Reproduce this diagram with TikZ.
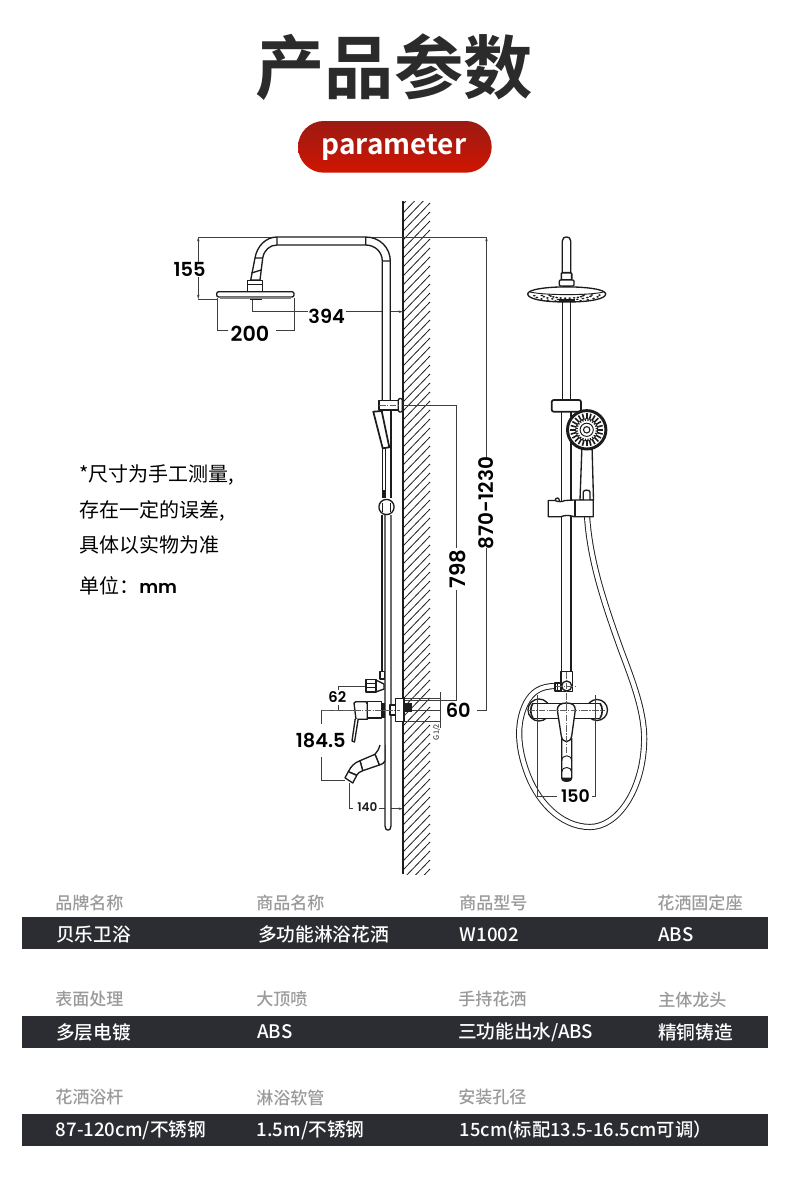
\documentclass[tikz,border=0pt]{standalone}
\usepackage{fontspec}
\usetikzlibrary{arrows.meta,shadings}
\setmainfont{Noto Sans CJK SC}
\newfontfamily\cjkb{Noto Sans CJK SC Bold}
\newfontfamily\cjkm{Noto Sans CJK SC Medium}
\newfontfamily\popp{Poppins SemiBold}
\newcommand{\fsz}[1]{\fontsize{#1}{#1}\selectfont}
\definecolor{ink}{HTML}{1C1C1C}
\definecolor{titlec}{HTML}{2B2B2B}
\definecolor{barc}{HTML}{2C2D32}
\definecolor{labc}{HTML}{9A9A9A}
\definecolor{pilltop}{HTML}{9C1A12}
\definecolor{pillmid}{HTML}{B5180B}
\definecolor{pillbot}{HTML}{D01500}
\tikzset{
 x=.75pt,y=-.75pt,
 part/.style={draw=ink,line width=1pt,fill=white,line join=round},
 thin part/.style={draw=ink,line width=.7pt,fill=white,line join=round},
 dimln/.style={draw=ink!85,line width=.45pt},
 dimarrow/.style={dimln,-{Stealth[length=3.2pt,width=1.8pt]}},
 dimtxt/.style={font=\popp\fsz{14.5},text=black,inner sep=0pt},
 smalltxt/.style={font=\popp\fsz{9},text=ink,inner sep=0pt},
 cdash/.style={draw=ink!70,line width=.4pt,dash pattern=on 5pt off 1pt on 1pt off 1pt},
 lab/.style={anchor=west,font=\cjkm\fsz{12.8},text=labc,inner sep=0pt},
 val/.style={anchor=west,font=\cjkm\fsz{14},text=white,inner sep=0pt},
 note/.style={anchor=west,font=\fsz{15},text=black,inner sep=0pt},
 hoseline/.style={line width=4.6pt,draw=ink},
 hosecore/.style={line width=3.2pt,draw=white},
}
\begin{document}
\begin{tikzpicture}
\useasboundingbox (0,0) rectangle (790,1182);
\fill[white] (0,0) rectangle (790,1182);
% title
\node[font=\cjkb\fsz{52},text=titlec,inner sep=0pt] (title) at (394,67) {产品参数};
\shade[top color=pilltop,bottom color=pillbot,middle color=pillmid,rounded corners=19.4pt] (298,121) rectangle (491.7,172.7);
\node[font=\cjkb\fsz{21},text=white,inner sep=0pt] (param) at (394,147.5) {parameter};
% wall
\begin{scope}
\clip (403,201) rectangle (431,874);
\foreach \yy in {204,213,...,912}{\draw[ink,line width=.6pt] (403,\yy) -- (430,\yy-28);}
\end{scope}
\draw[ink,line width=.9pt] (403,201) -- (403,874);
% dimension lines, left view
\draw[dimln] (198.3,237) -- (277,237);
\draw[dimln] (366,237) -- (486.5,237);
\draw[dimln] (198.3,299) -- (217,299);
\draw[dimarrow] (198.3,262) -- (198.3,237);
\draw[dimarrow] (198.3,277) -- (198.3,299);
\draw[dimln] (252.7,300) -- (252.7,311.7) -- (308,311.7);
\draw[dimarrow] (346,311.7) -- (403,311.7);
\draw[dimln] (228,330) -- (217.3,330) -- (217.3,298);
\draw[dimln] (276,330) -- (294,330) -- (294,298);
\draw[dimln] (398,405) -- (456.7,405) -- (456.7,548);
\draw[dimln] (456.7,590) -- (456.7,700) -- (404,700);
\draw[dimarrow] (486.5,458) -- (486.5,237);
\draw[dimln] (486.5,548) -- (486.5,710) -- (476.7,710);
\draw[dimln] (338.3,705) -- (338.3,710);
\draw[dimln] (338.3,690) -- (338.3,686) -- (366,686);
\draw[dimln] (321.7,724) -- (321.7,710) -- (440,710);
\draw[dimln] (321.7,756.7) -- (321.7,780) -- (345,780);
\draw[dimln] (404,721.7) -- (440,721.7);
\draw[dimln] (404,698) -- (440,698);
\draw[dimln] (440,692) -- (440,728);
\draw[dimln] (349.3,783) -- (349.3,808.7) -- (353,808.7);
\draw[dimarrow] (379.3,808.7) -- (403,808.7);
% arm, left view
\draw[part] (382.3,400) -- (382.3,261) .. controls (382.3,252) and (375,245) .. (365.7,245) -- (277,245) .. controls (270,245) and (264,250) .. (262.7,258) -- (260,280) -- (250.7,280) -- (255,258) .. controls (257,246) and (266,237) .. (277,237) -- (365.7,237) .. controls (380,237) and (390.3,248) .. (390.3,261) -- (390.3,400);
\draw[part] (277,237) -- (277,245) (365.7,237) -- (365.7,245) (382.3,261) -- (390.3,261) (255,258) -- (262.7,258) (251.5,273) -- (261,270);
\draw[part] (247.7,280.7) rectangle (262.7,291.7);
\draw[thin part] (247.7,284) -- (262.7,284);
\draw[part,rounded corners=1.5pt] (216.7,291.7) rectangle (294,297);
\draw[ink!55,line width=1pt] (220,298) -- (291,298);
\draw[ink,line width=.8pt] (250,299.5) -- (262,299.5);
% lower rod, left view
\draw[part] (382.7,411) -- (382.7,490);
\draw[part] (385.2,447) -- (385.2,492);
\draw[part] (391,410) -- (391,497);
\fill[ink] (382,490) rectangle (385.6,498);
\fill[ink] (389.8,490) rectangle (392,498);
\draw[part] (382,515) -- (382,672);
\draw[part] (385,515) -- (385,826) .. controls (385,831.5) and (391,831.5) .. (391,826) -- (391,515);
\draw[part] (386.5,507) circle[radius=7.6];
\draw[part] (382.3,503) -- (382.3,512) (390.7,503) -- (390.7,512);
% slider and hand shower, left view
\draw[part,line width=1.3pt] (373.3,411.7) -- (381.7,411) -- (389.3,447.3) -- (382.7,448.3) -- cycle;
\draw[part] (379,400.7) rectangle (398.3,410);
\draw[part,rounded corners=1pt] (398.3,398.5) rectangle (402.3,412);
\draw[cdash] (379,405) -- (398,405);
% valve, left view
\draw[part] (380,671.7) rectangle (384.3,679);
\draw[part] (375.7,680) -- (384,684) -- (384,689) -- (375.7,692) -- cycle;
\draw[part,line width=1.2pt] (365.7,679.3) rectangle (375.7,691.7);
\draw[ink,line width=.9pt] (366,683.5) -- (375.5,683.5) (366,687.5) -- (375.5,687.5);
\fill[ink] (381.7,703) rectangle (385,718);
\draw[part] (367.3,701.7) rectangle (381.7,718);
\draw[part] (354,703) -- (356,701.7) -- (366,701.7) -- (367.3,704) -- (367.3,719.3) -- (356,719.3) -- cycle;
\draw[part] (355.2,719) -- (352,741) -- (354.5,742) -- (358.2,719);
\draw[part] (380,745) .. controls (379,749) and (377,752) .. (375,754.3) -- (379.3,765) .. controls (383,764) and (384,762.5) .. (385,761) -- (385,745);
\draw[part] (360,760.7) -- (375,754.3) -- (379.3,765) -- (362.7,770.7) -- cycle;
\draw[part] (360,760.7) .. controls (355,762.5) and (351,766) .. (348.3,771.7) -- (356.7,775) .. controls (358,773) and (360,771.7) .. (362.7,770.7) -- cycle;
\draw[part] (345,777.8) -- (348.3,771.7) -- (356.7,775.4) -- (352.8,783) -- cycle;
% wall mount, left view
\draw[part] (390,705) rectangle (395.7,715);
\draw[part] (395.7,698.3) rectangle (404,721.7);
\fill[ink] (405,703.3) rectangle (412.3,711.5);
\draw[cdash] (322,710) -- (400,710);
% right view: hose
\def\hosepath{(587,516) .. controls (590,560) and (603,600) .. (621,650) .. controls (633,682) and (646,715) .. (644,745) .. controls (642,790) and (618,827) .. (590,827) .. controls (560,827) and (536,800) .. (526,770) .. controls (519,750) and (515,725) .. (526,703) .. controls (532,692) and (540,686) .. (556,686)}
\draw[hoseline] \hosepath;
\draw[hosecore] \hosepath;
% right view: top
\draw[part] (562.3,272) -- (562.3,241) .. controls (562.3,235.5) and (570.7,235.5) .. (570.7,241) -- (570.7,272);
\draw[part,line width=1.2pt,rounded corners=.8pt] (561.3,272.7) rectangle (571.7,280);
\draw[part,rounded corners=.8pt] (559.3,280) rectangle (574,286);
\draw[part] (562.3,300) -- (562.3,400);
\draw[part] (570.7,300) -- (570.7,400);
\draw[part] (527.7,294) .. controls (527.7,284.5) and (605.7,284.5) .. (605.7,294) .. controls (605.7,299) and (590,302) .. (566.7,302) .. controls (543,302) and (527.7,299) .. (527.7,294) -- cycle;
\draw[thin part,fill=none] (530,292) .. controls (545,295.5) and (590,295.5) .. (603.5,292);
\foreach \rdf in {.5,.72,.94}{\foreach \thh in {5,20,...,175}{
 \fill[ink] ({566.7+35*\rdf*cos(\thh)},{294.5+7.4*\rdf*sin(\thh)}) ellipse [x radius=1.5,y radius=.9];}}
\fill[ink] (559,298.5) rectangle (575,301.5);
% right view: rod
\draw[part,fill=none] (561.7,411) -- (561.7,671.7) (571,411) -- (571,671.7);
\draw[part,line width=1.3pt,rounded corners=1.5pt] (551.7,400) rectangle (581,411.7);
% handle
\draw[part] (582,445) -- (580,500) -- (593.5,500) -- (592,445) -- cycle;
\draw[part] (583.3,500) -- (583.3,492) .. controls (583.3,489.5) and (590,489.5) .. (590,492) -- (590,500);
% holder
\draw[part] (555,501) .. controls (555,497) and (559.5,497) .. (559.5,501);
\draw[part] (548.3,500.5) -- (555,500.5) .. controls (558,502) and (562,502) .. (565,500.5) -- (574,500) -- (593.3,500) -- (593.3,516.7) -- (574,516.7) .. controls (570,515) and (565,515) .. (561,516.7) -- (548.3,516.7) -- cycle;
\draw[ink,line width=1.8pt] (575.2,500) -- (575.2,516.7);
% head of hand shower
\draw[ink,line width=2.2pt,fill=white] (586.7,429.8) circle[radius=19.2];
\foreach \ang in {0,15,...,345}{
 \draw[ink,line width=1.2pt] (586.7,429.8) ++(\ang:10.5) -- ++(\ang:6);
 \draw[ink,line width=.9pt] (586.7,429.8) ++(\ang+7.5:9) -- ++(\ang+7.5:2.4);
}
\draw[ink,line width=.8pt] (586.7,429.8) circle[radius=3.2];
\draw[ink,line width=.7pt] (586.7,429.8) circle[radius=6.6];
% valve, right view
\draw[part] (561,671.7) rectangle (572.3,691.7);
\draw[part] (566.7,686) circle[radius=5];
\draw[part,line width=1.3pt] (555,682.7) rectangle (560.7,690.7);
\draw[ink,line width=.8pt] (557.8,682.7) -- (557.8,690.7);
% faucet body, right view
\draw[part] (539,710) circle[radius=11];
\draw[part] (597,710) circle[radius=10.5];
\fill[white] (536,704) rectangle (600,717.6);
\draw[part] (533,703.3) -- (600,703.3) (533,718.3) -- (600,718.3);
\draw[thin part,fill=none,line width=1.2pt] (533,703.3) .. controls (530,707) and (530,714) .. (533,718.3);
\draw[thin part,fill=none,line width=1.2pt] (600,703.3) .. controls (603,707) and (603,714) .. (600,718.3);
% lower spout, right view
\draw[part] (561.7,738) -- (561.7,778) .. controls (561.7,782) and (571.7,782) .. (571.7,778) -- (571.7,738);
\draw[thin part,fill=none] (561.7,761) .. controls (561.7,754) and (571.7,754) .. (571.7,761);
\draw[thin part,fill=none] (561.7,772) .. controls (561.7,766) and (571.7,766) .. (571.7,772);
\fill[ink] (561.7,777.5) -- (571.7,777.5) -- (571.7,780) .. controls (570,782.5) and (563,782.5) .. (561.7,780) -- cycle;
% handle, right view
\draw[part] (557.3,710) .. controls (557.3,705) and (561,703) .. (566.5,703) .. controls (572,703) and (575.3,705) .. (575.3,710) -- (571.7,736) .. controls (570.5,743.5) and (562.5,743.5) .. (561.3,736) -- cycle;
\draw[cdash] (566.7,672) -- (566.7,753);
\draw[cdash] (528,710) -- (605,710);
\draw[cdash] (556,686) -- (577,686);
% right view: dimension
\draw[dimln] (556.7,796) -- (537.7,796) -- (537.7,695);
\draw[dimln] (591.7,796) -- (595.3,796) -- (595.3,695);
% dimension labels
\node[dimtxt] (d155) at (189.5,269.5) {155};
\node[dimtxt] (d394) at (326.7,316) {394};
\node[dimtxt,font=\popp\fsz{15.5}] (d200) at (250,334) {200};
\node[dimtxt,rotate=90,font=\popp\fsz{16}] (d798) at (458,569) {798};
\node[dimtxt,rotate=90,font=\popp\fsz{15}] (d870) at (486.5,503) {870-1230};
\node[dimtxt] (d60) at (458.3,710) {60};
\node[dimtxt,font=\popp\fsz{11}] (d62) at (337.3,697) {62};
\node[dimtxt] (d184) at (320.7,740) {184.5};
\node[smalltxt] (d140) at (367.3,807) {140};
\node[dimtxt,font=\popp\fsz{13}] (d150) at (575.5,796) {150};
\node[font=\fsz{5.5},text=ink,rotate=90,inner sep=0pt] (dg) at (436.7,732) {G1/2};
% notes
\node[note] (n1) at (79,475) {*尺寸为手工测量,};
\node[note] (n2) at (79,511) {存在一定的误差,};
\node[note] (n3) at (79,545) {具体以实物为准};
\node[note] (n4) at (79,586) {单位：\popp\fsz{13.5}mm};
% table
\fill[barc] (22,917) rectangle (768,949);
\fill[barc] (22,1016) rectangle (768,1047.7);
\fill[barc] (22,1114) rectangle (768,1145.7);
\node[lab] (a1) at (55,902.7) {品牌名称};
\node[lab] (a2) at (256,902.7) {商品名称};
\node[lab] (a3) at (459,902.7) {商品型号};
\node[lab] (a4) at (657,902.7) {花洒固定座};
\node[val] (b1) at (56,934.3) {贝乐卫浴};
\node[val] (b2) at (258,934.3) {多功能淋浴花洒};
\node[val] (b3) at (459.5,934.3) {W1002};
\node[val] (b4) at (658,934.3) {ABS};
\node[lab] (c1) at (55,999.5) {表面处理};
\node[lab] (c2) at (256,999.5) {大顶喷};
\node[lab] (c3) at (458,999.5) {手持花洒};
\node[lab] (c4) at (658,999.5) {主体龙头};
\node[val] (e1) at (56,1032) {多层电镀};
\node[val] (e2) at (257,1032) {ABS};
\node[val] (e3) at (458,1032) {三功能出水/ABS};
\node[val] (e4) at (658,1032) {精铜铸造};
\node[lab] (f1) at (55,1097.5) {花洒浴杆};
\node[lab] (f2) at (256,1097.5) {淋浴软管};
\node[lab] (f3) at (458,1097.5) {安装孔径};
\node[val] (g1) at (55.5,1130) {87-120cm/不锈钢};
\node[val] (g2) at (256.5,1130) {1.5m/不锈钢};
\node[val,font=\cjkm\fsz{13.7}] (g3) at (459.5,1130) {15cm(标配13.5-16.5cm可调）};
\end{tikzpicture}
\end{document}
